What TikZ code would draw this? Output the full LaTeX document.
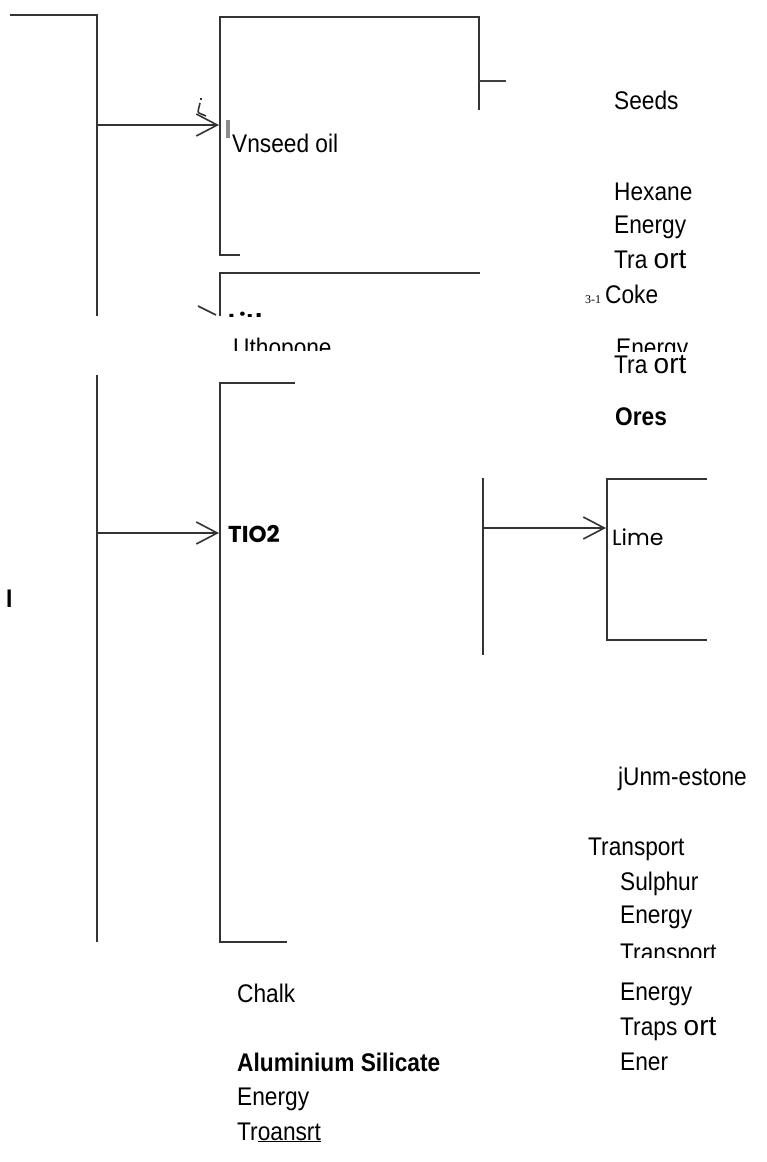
\documentclass[tikz,border=0pt]{standalone}
\usepackage{fontspec}
\setmainfont{Liberation Sans}[FakeStretch=0.89]
\newfontfamily\plainsans{Liberation Sans}
\newfontfamily\serifsm{Liberation Serif}
\newfontfamily\geo{Poppins}
\usetikzlibrary{arrows.meta}
\tikzset{
  ln/.style={line width=2pt, draw=black!80},
  thinln/.style={line width=1.4pt, draw=black!75},
  arr/.style={line width=1.6pt, draw=black!80, -{Straight Barb[length=21pt,width=22pt]}},
  lbl/.style={anchor=base west, inner sep=0pt, font=\fontsize{25.5}{25.5}\selectfont},
  blbl/.style={anchor=base west, inner sep=0pt, font=\fontsize{25.5}{25.5}\selectfont\bfseries},
  geob/.style={anchor=base west, inner sep=0pt, font=\geo\fontsize{23}{23}\selectfont\bfseries},
  geor/.style={anchor=base west, inner sep=0pt, font=\geo\fontsize{22}{22}\selectfont},
  tiny/.style={anchor=base west, inner sep=0pt, font=\serifsm\fontsize{12}{12}\selectfont},
}
\newcommand{\bigort}{{\plainsans\fontsize{28}{28}\selectfont ort}}
\begin{document}
\begin{tikzpicture}[x=1pt,y=-1pt]
\useasboundingbox (0,0) rectangle (767,1162);

% ---------- upper scan piece ----------
\draw[ln] (10,15) -- (97,15) -- (97,316);
\draw[ln] (240,255) -- (220,255) -- (220,17) -- (479,17) -- (479,110);
\draw[thinln] (479,81) -- (506,81);
\draw[ln] (220,316) -- (220,273) -- (480,273);
\fill[black!45] (226,120) rectangle (230,138);
\draw[line width=1.6pt, black!80] (201,98) -- (201,100);
\draw[line width=1.6pt, black!80] (200,103) .. controls (199,108) and (197,112) .. (199,113) -- (206,116);

\coordinate (a1s) at (97,125);
\coordinate (a1e) at (219,125);
\draw[arr] (a1s) -- (a1e);

\node[lbl] (vnseed) at (232,152) {Vnseed oil};

\begin{scope}
  \clip (150,290) rectangle (300,316);
  \draw[line width=1.6pt, black!80] (198,306) -- (216,315);
  \node[geob] (lith) at (228,330) {Lith};
\end{scope}
\begin{scope}
  \clip (200,320) rectangle (500,350);
  \node[lbl] (utho) at (233,356) {Uthopone};
\end{scope}

% ---------- right column, top ----------
\node[lbl] (seeds) at (614,109) {Seeds};
\node[lbl] (hexane) at (614,200) {Hexane};
\node[lbl] (energy1) at (614,233) {Energy};
\node[lbl] (trans1) at (614,268) {Tra \bigort};
\node[tiny] (num) at (585,303) {3-1};
\node[lbl] (coke) at (605,303) {Coke};
\begin{scope}
  \clip (580,320) rectangle (767,351);
  \node[lbl] (energy2) at (616,356) {Energy};
\end{scope}
\node[lbl] (trans2) at (614,373) {Tra \bigort};
\node[blbl] (ores) at (615,425) {Ores};

% ---------- lower left scan piece ----------
\draw[ln] (97,375) -- (97,942);
\draw[ln] (295,383) -- (220,383) -- (220,942) -- (287,942);
\coordinate (a2s) at (97,533);
\coordinate (a2e) at (219,533);
\draw[arr] (a2s) -- (a2e);
\node[geob] (tio) at (228,542) {TIO2};
\node[blbl] (iletter) at (6,607) {I};

% ---------- lime piece ----------
\draw[ln] (483,478) -- (483,655);
\draw[ln] (707,479) -- (607,479) -- (607,640) -- (707,640);
\coordinate (a3s) at (483,528);
\coordinate (a3e) at (606,528);
\draw[arr] (a3s) -- (a3e);
\node[geor] (lime) at (612,545) {Lime};

% ---------- right column, bottom ----------
\node[lbl] (lime2) at (618,785) {jUnm-estone};
\node[lbl] (trans3) at (588,855) {Transport};
\node[lbl] (sulph) at (620,890) {Sulphur};
\node[lbl] (energy3) at (620,923) {Energy};
\begin{scope}
  \clip (600,930) rectangle (767,957);
  \node[lbl] (trans4) at (620,961) {Transport};
\end{scope}
\node[lbl] (energy4) at (620,1000) {Energy};
\node[lbl] (trans5) at (620,1035) {Traps \bigort};
\node[lbl] (ener) at (620,1070) {Ener};

% ---------- bottom left column ----------
\node[lbl] (chalk) at (237,1002) {Chalk};
\node[blbl] (alu) at (237,1071) {Aluminium Silicate};
\node[lbl] (energy5) at (237,1105) {Energy};
\node[lbl] (trans6) at (237,1140) {Tr\underline{oansrt}};
\end{tikzpicture}
\end{document}
